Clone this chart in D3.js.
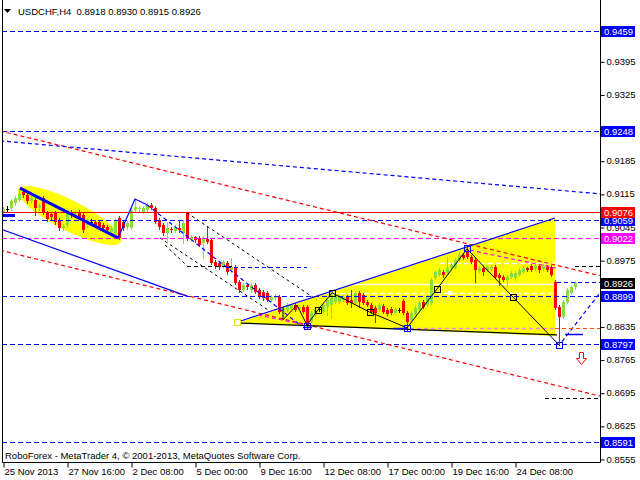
<!DOCTYPE html>
<html><head><meta charset="utf-8">
<script src="https://cdn.jsdelivr.net/npm/d3@7"></script>
<style>
html,body{margin:0;padding:0;background:#fff;}
svg{display:block;font-family:"Liberation Sans",Arial,sans-serif;}
</style></head><body>
<svg id="c" width="640" height="480"></svg>
<script>
// ---------- DATA ----------
const symbol = "USDCHF,H4";
const footer = "RoboForex - MetaTrader 4, \u00A9 2001-2013, MetaQuotes Software Corp.";
const opens = [.9075,.9083,.9085,.9096,.9102,.9119,.9113,.9100,.9102,.9085,
.9106,.9075,.9072,.9075,.9060,.9043,.9049,.9077,.9072,.9077,
.9070,.9049,.9056,.9056,.9056,.9049,.9045,.9034,.9032,.9064,
.9056,.9045,.9043,.9081,.9083,.9077,.9081,.9092,.9085,.9060,
.9049,.9032,.9041,.9037,.9043,.9032,.9075,.9018,.9024,.9022,
.9011,.9020,.9018,.8971,.8969,.8961,.8969,.8954,.8961,.8929,
.8912,.8922,.8912,.8922,.8912,.8908,.8906,.8891,.8895,.8897,
.8868,.8870,.8874,.8880,.8874,.8876,.8876,.8844,.8859,.8872,
.8865,.8876,.8880,.8887,.8887,.8891,.8897,.8891,.8884,.8906,
.8901,.8887,.8880,.8874,.8870,.8878,.8870,.8872,.8863,.8870,
.8889,.8863,.8849,.8859,.8870,.8887,.8880,.8884,.8937,.8944,
.8950,.8948,.8958,.8958,.8975,.8986,.8992,.8982,.8975,.8952,
.8958,.8954,.8956,.8961,.8944,.8939,.8933,.8939,.8937,.8944,
.8950,.8958,.8963,.8956,.8963,.8956,.8961,.8961,.8929,.8876,
.8855,.8887,.8906,.8918];
const highs = [.9087,.9089,.9104,.9111,.9123,.9125,.9117,.9111,.9106,.9096,
.9111,.9079,.9077,.9079,.9064,.9051,.9081,.9081,.9079,.9081,
.9075,.9064,.9062,.9060,.9060,.9053,.9049,.9047,.9064,.9068,
.9060,.9058,.9085,.9104,.9089,.9089,.9096,.9096,.9089,.9064,
.9053,.9056,.9045,.9049,.9060,.9060,.9077,.9028,.9026,.9026,
.9026,.9047,.9022,.8975,.8973,.8975,.8973,.8980,.8965,.8933,
.8927,.8925,.8927,.8927,.8916,.8912,.8910,.8901,.8903,.8901,
.8876,.8884,.8882,.8884,.8880,.8880,.8880,.8868,.8874,.8876,
.8884,.8895,.8908,.8906,.8901,.8901,.8901,.8912,.8910,.8910,
.8906,.8891,.8884,.8878,.8884,.8882,.8874,.8876,.8876,.8874,
.8893,.8868,.8868,.8878,.8889,.8891,.8901,.8937,.8954,.8958,
.8954,.8982,.8969,.8980,.8992,.8990,.9003,.8986,.8980,.8963,
.8963,.8965,.8965,.8965,.8948,.8944,.8944,.8952,.8952,.8958,
.8963,.8961,.8967,.8967,.8967,.8967,.8965,.8965,.8933,.8880,
.8891,.8916,.8922,.8930];
const lows = [.9070,.9077,.9081,.9092,.9100,.9108,.9096,.9096,.9070,.9081,
.9072,.9058,.9062,.9051,.9039,.9039,.9045,.9066,.9070,.9062,
.9034,.9045,.9049,.9045,.9041,.9039,.9034,.9032,.9028,.9020,
.9039,.9041,.9041,.9079,.9079,.9075,.9079,.9083,.9053,.9041,
.9028,.9018,.9034,.9034,.9034,.9011,.9018,.9015,.9013,.9005,
.8980,.9011,.8967,.8958,.8956,.8958,.8946,.8950,.8925,.8908,
.8910,.8914,.8908,.8906,.8895,.8891,.8889,.8889,.8891,.8863,
.8863,.8868,.8872,.8868,.8870,.8863,.8832,.8842,.8857,.8868,
.8863,.8859,.8853,.8884,.8884,.8889,.8882,.8876,.8882,.8876,
.8882,.8878,.8863,.8844,.8868,.8863,.8859,.8861,.8861,.8865,
.8861,.8828,.8844,.8857,.8868,.8874,.8878,.8880,.8935,.8942,
.8939,.8946,.8956,.8956,.8973,.8977,.8980,.8969,.8929,.8950,
.8944,.8952,.8954,.8937,.8922,.8931,.8920,.8937,.8933,.8942,
.8948,.8952,.8952,.8954,.8950,.8954,.8952,.8942,.8872,.8796,
.8853,.8884,.8903,.8915];
const closes = [.9083,.9083,.9100,.9106,.9115,.9113,.9100,.9106,.9085,.9092,
.9075,.9062,.9066,.9056,.9043,.9047,.9077,.9070,.9077,.9066,
.9039,.9060,.9056,.9049,.9045,.9043,.9039,.9043,.9060,.9022,
.9043,.9053,.9081,.9087,.9085,.9085,.9092,.9085,.9056,.9045,
.9032,.9043,.9039,.9045,.9039,.9053,.9022,.9024,.9018,.9007,
.9022,.9013,.8969,.8963,.8961,.8971,.8950,.8961,.8927,.8912,
.8922,.8918,.8922,.8908,.8897,.8895,.8891,.8897,.8899,.8865,
.8872,.8880,.8880,.8870,.8876,.8865,.8838,.8863,.8870,.8872,
.8880,.8891,.8901,.8901,.8897,.8897,.8884,.8884,.8906,.8887,
.8884,.8880,.8865,.8863,.8880,.8865,.8861,.8863,.8872,.8870,
.8863,.8844,.8863,.8874,.8884,.8876,.8897,.8933,.8950,.8954,
.8944,.8958,.8965,.8975,.8986,.8980,.8982,.8971,.8954,.8958,
.8950,.8961,.8961,.8939,.8937,.8933,.8939,.8948,.8948,.8954,
.8958,.8954,.8954,.8963,.8954,.8963,.8954,.8944,.8874,.8855,
.8887,.8912,.8918,.8926];

const timeTickBars = [0,16,32,48,64,80,96,112,128];
const timeTickLabels = ["25 Nov 2013","27 Nov 16:00","2 Dec 08:00","5 Dec 00:00","9 Dec 16:00","12 Dec 08:00","17 Dec 00:00","19 Dec 16:00","24 Dec 08:00"];
const priceTicks = [0.9395,0.9325,0.9185,0.9115,0.9045,0.8975,0.8835,0.8765,0.8695,0.8625,0.8555];

const blueLevels = [0.9459,0.9248,0.9059,0.8899,0.8797,0.8591];
const redLevel = 0.9076;
const magentaLevel = 0.9022;
const bidLevel = 0.8926;

// trend lines: [[bar, price],[bar, price]]
const redDashTrends = [[[-0.75,0.9248],[149.25,0.8942]], [[-0.75,0.8996],[149.25,0.8688]]];
const blueDashTrends = [[[-0.75,0.9227],[149.25,0.9115]], [[36,0.9092],[74.25,0.8838]], [[139.75,0.8803],[149.25,0.8906]]];
const blueSolidTrends = [[[-0.75,0.9041],[46,0.8899]], [[59.25,0.8846],[138,0.9064]]];
const blueThickTrend = [[4.25,0.9127],[28.75,0.9022]];
const blueSolidPath = [[28.75,0.9022],[33,0.9104],[36,0.9092]];
const blackDashTrends = [[[46,0.9075],[78.5,0.8891]], [[39.25,0.9022],[66.25,0.8870]], [[40.5,0.9007],[46,0.8963]]];
const magentaDashTrends = [[[116.75,0.8996],[138.5,0.8958]], [[63.75,0.8859],[76,0.8838]]];
// short horizontal segments: [barFrom, barTo, price]
const blackDashSegs = [[46,57.25,0.8963],[143,149.25,0.8963],[135.5,148.75,0.8684]];
const blueDashSegs = [[56,76,0.8961],[138.5,149.25,0.8929]];
const orangeDashSegs = [[138,149.25,0.8831]];
const blueSolidSegs = [[75,77.25,0.8834],[97.5,101,0.8832],[140.5,145,0.8819]];
const blueThickSegs = [[0,3,0.9071]];
const whiteSolidSegs = [[81.75,138,0.8925]];
const whiteDashSegs = [[74.25,138,0.8906],[109.25,138,0.8969]];
const pinkDashSegs = [[101.75,138.5,0.8832]];
// shapes
const yellowTriangle = [[58.5,0.8842],[138,0.9064],[138,0.8815]];
const blackBaseLine = [[59.25,0.8842],[138.5,0.8817]];
const yellowEllipseAxis = [[3.75,0.9129],[29.5,0.9018]];
const waveZigzag = [[70,0.8876],[70,0.8849],[73.5,0.8880],[76,0.8838],[78.75,0.8870],[82.25,0.8906],[91.75,0.8865],[101,0.8832],[108.5,0.8914],[116,0.8999],[127.5,0.8897],[139,0.8796]];
const blackSquares = [[78.75,0.8870],[82.25,0.8906],[91.75,0.8865],[108.5,0.8914],[127.5,0.8897]];
const blueSquares = [[76,0.8836],[101,0.8832],[116,0.9001],[139,0.8796]];
const yellowSquares = [[58.5,0.8844]];
const whiteDots = [[111.75,0.8906]];
const downArrow = [144.5,0.8768];

// ---------- CHART ----------
const svg = d3.select('#c');
const plot = {l:2, r:600, b:462};
const x = d3.scaleLinear().domain([0,143]).range([3,575]);
const y = d3.scaleLinear().domain([0.8555,0.9459]).range([459,31]);
const X = v => Math.round(x(v));
const Y = v => Math.round(y(v));

svg.append('rect').attr('width',640).attr('height',480).attr('fill','#fff');
svg.append('defs').append('clipPath').attr('id','clip').append('rect')
  .attr('x',plot.l+1).attr('y',0).attr('width',plot.r-plot.l-1).attr('height',plot.b);
const g = svg.append('g').attr('clip-path','url(#clip)');
const bg = g.append('g'), cg = g.append('g'), og = g.append('g');
const line = d3.line().x(d=>x(d[0])).y(d=>y(d[1]));

// background yellow shapes
(function(){
  const [a,b] = yellowEllipseAxis;
  const x0=x(a[0]), y0=y(a[1]), x1=x(b[0]), y1=y(b[1]);
  const cx=(x0+x1)/2, cy=(y0+y1)/2+2;
  const rx=Math.hypot(x1-x0,y1-y0)/2;
  const ang=Math.atan2(y1-y0,x1-x0)*180/Math.PI;
  bg.append('ellipse').attr('cx',cx).attr('cy',cy).attr('rx',rx).attr('ry',15)
    .attr('transform',`rotate(${ang},${cx},${cy})`).attr('fill','#ffff00');
})();
bg.append('path').attr('d', line(yellowTriangle)+'Z').attr('fill','#ffff00');

function hseg(sel, segs, color, dash, w){
  sel.selectAll(null).data(segs).enter().append('line')
    .attr('x1',d=>x(d[0])).attr('x2',d=>x(d[1]))
    .attr('y1',d=>Y(d[2])+0.5).attr('y2',d=>Y(d[2])+0.5)
    .attr('stroke',color).attr('stroke-width',w||1)
    .attr('stroke-dasharray',dash||null);
}
hseg(bg, whiteSolidSegs, '#ffffff', null, 1.5);
hseg(bg, whiteDashSegs, '#ffffff', '5,3', 1.5);
hseg(bg, pinkDashSegs, '#ff80ff', '4,3', 1.5);

// candles
const bull='#86e03c', bear='#ff0000';
const candles = opens.map((o,i)=>({i,o,h:highs[i],l:lows[i],c:closes[i]}));
const colr = d => d.c>d.o ? bull : (d.c<d.o ? bear : '#000');
cg.selectAll('.wick').data(candles).enter().append('line')
  .attr('x1',d=>X(d.i)+0.5).attr('x2',d=>X(d.i)+0.5)
  .attr('y1',d=>Y(d.h)).attr('y2',d=>Y(d.l)+1)
  .attr('stroke',colr).attr('stroke-width',1);
cg.selectAll('.body').data(candles).enter().append('rect')
  .attr('x',d=>X(d.i)-1).attr('width',3)
  .attr('y',d=>Math.min(Y(d.o),Y(d.c)))
  .attr('height',d=>Math.max(1,Math.abs(Y(d.o)-Y(d.c))))
  .attr('fill',colr).attr('shape-rendering','crispEdges');

// horizontal full levels
og.selectAll(null).data(blueLevels).enter().append('line')
  .attr('x1',plot.l).attr('x2',plot.r).attr('y1',d=>Y(d)+0.5).attr('y2',d=>Y(d)+0.5)
  .attr('stroke','#0000ff').attr('stroke-dasharray','5,3');
og.append('line').attr('x1',plot.l).attr('x2',plot.r).attr('y1',Y(redLevel)+0.5).attr('y2',Y(redLevel)+0.5)
  .attr('stroke','#ff0000').attr('stroke-width',1.2);
og.append('line').attr('x1',plot.l).attr('x2',plot.r).attr('y1',Y(magentaLevel)+0.5).attr('y2',Y(magentaLevel)+0.5)
  .attr('stroke','#ff00ff').attr('stroke-dasharray','5,3');

function trends(segs,color,dash,w){
  og.selectAll(null).data(segs).enter().append('path')
    .attr('d',d=>line(d)).attr('fill','none').attr('stroke',color)
    .attr('stroke-width',w||1).attr('stroke-dasharray',dash||null);
}
trends(redDashTrends,'#ff0000','4,3',1.2);
trends(blueDashTrends,'#0000ff','4,3',1.2);
trends(blueSolidTrends,'#0000ff',null,1.2);
trends([blueThickTrend],'#0000ff',null,3);
trends([blueSolidPath],'#0000ff',null,1.2);
trends(blackDashTrends,'#000000','3,3',1);
trends(magentaDashTrends,'#ff00ff','4,3',1.2);
trends([blackBaseLine],'#000000',null,1.3);
trends([waveZigzag],'#000000',null,1);

hseg(og, blackDashSegs, '#000', '4,3');
hseg(og, blueDashSegs, '#0000ff', '4,3');
hseg(og, orangeDashSegs, '#ff5000', '4,3');
hseg(og, blueSolidSegs, '#0000ff', null, 1.5);
hseg(og, blueThickSegs, '#0000ff', null, 3);

function squares(pts,color,fill){
  og.selectAll(null).data(pts).enter().append('rect')
    .attr('x',d=>X(d[0])-3+0.5).attr('y',d=>Y(d[1])-3+0.5).attr('width',6).attr('height',6)
    .attr('fill',fill).attr('stroke',color).attr('stroke-width',1);
}
squares(blackSquares,'#000','none');
squares(blueSquares,'#0000ff','none');
squares(yellowSquares,'#e6e600','#ffffff');
og.selectAll(null).data(whiteDots).enter().append('rect')
  .attr('x',d=>X(d[0])-2).attr('y',d=>Y(d[1])-2).attr('width',4).attr('height',4).attr('fill','#fff');

// down arrow
(function(){
  const ax=X(downArrow[0])+0.5, ay=Y(downArrow[1])+0.5;
  const p=[[-2,-6],[2,-6],[2,0],[5,0],[0,6],[-5,0],[-2,0]].map(q=>[ax+q[0],ay+q[1]]);
  og.append('path').attr('d','M'+p.map(q=>q.join(',')).join('L')+'Z')
    .attr('fill','#fff').attr('stroke','#ff0000').attr('stroke-width',1);
})();

// frame
svg.append('path').attr('d',`M${plot.l+0.5},0V${plot.b+0.5}H${plot.r+0.5}V0`)
  .attr('fill','none').attr('stroke','#000');

// price axis
const ya = svg.append('g').attr('transform',`translate(${plot.r+0.5},0)`)
  .call(d3.axisRight(y).tickValues(priceTicks).tickSize(4).tickPadding(2).tickFormat(d3.format('.4f')));
ya.select('.domain').remove();
ya.selectAll('line').attr('stroke','#000').attr('transform','translate(0,0.5)');
ya.selectAll('text').attr('font-size','9.5px').attr('fill','#000').attr('font-family','"Liberation Sans",Arial,sans-serif');

const boxes = blueLevels.map(v=>({v,c:'#0000ff'}))
  .concat([{v:redLevel,c:'#ff0000'},{v:magentaLevel,c:'#ff00ff'},{v:bidLevel,c:'#000000'}]);
const bx = svg.append('g');
bx.selectAll(null).data(boxes).enter().append('rect')
  .attr('x',plot.r+1).attr('y',d=>Y(d.v)-5).attr('width',34).attr('height',11).attr('fill',d=>d.c);
bx.selectAll(null).data(boxes).enter().append('text')
  .attr('x',plot.r+4).attr('y',d=>Y(d.v)+4).attr('font-size','9.5px').attr('fill','#fff')
  .text(d=>d3.format('.4f')(d.v));

// time axis
const xa = svg.append('g').attr('transform',`translate(0,${plot.b+0.5})`)
  .call(d3.axisBottom(x).tickValues(timeTickBars).tickSize(5).tickFormat((d,i)=>timeTickLabels[i]));
xa.select('.domain').remove();
xa.selectAll('line').attr('stroke','#000').attr('transform','translate(0.5,0)');
xa.selectAll('text').attr('text-anchor','start').attr('dx','1px').attr('y',6)
  .attr('font-size','9.5px').attr('fill','#000').attr('font-family','"Liberation Sans",Arial,sans-serif');

// header
const n = closes.length-1;
svg.append('path').attr('d','M4,9H11L7.5,13Z').attr('fill','#000');
svg.append('text').attr('x',18).attr('y',15).attr('font-size','9.5px').attr('fill','#000')
  .attr('xml:space','preserve').style('white-space','pre')
  .text(`${symbol}  ${opens[n].toFixed(4)} ${highs[n].toFixed(4)} ${lows[n].toFixed(4)} ${closes[n].toFixed(4)}`);
svg.append('text').attr('x',5).attr('y',459).attr('font-size','9.5px').attr('fill','#000').text(footer);
</script>
</body></html>
